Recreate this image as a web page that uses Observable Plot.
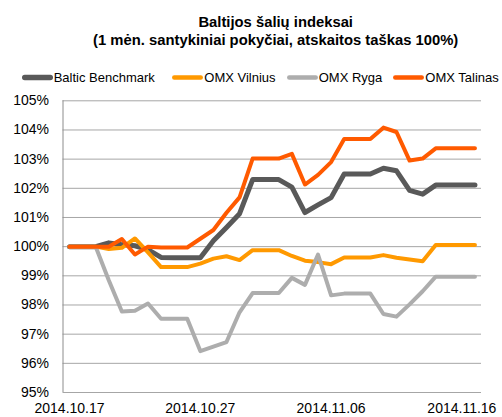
<!DOCTYPE html>
<html>
<head>
<meta charset="utf-8">
<script src="https://cdn.jsdelivr.net/npm/d3@7"></script>
<script src="https://cdn.jsdelivr.net/npm/@observablehq/plot@0.6"></script>
<style>
  html, body { margin: 0; padding: 0; background: #fff; }
  #wrap { position: relative; width: 502px; height: 417px; overflow: hidden; font-family: "Liberation Sans", Arial, sans-serif; color: #000; }
  .title { position: absolute; left: 275.7px; transform: translateX(-50%); white-space: nowrap; font-weight: bold; font-size: 14.8px; line-height: 17.7px; text-align: center; top: 14px; }
  .leg { position: absolute; top: 71px; height: 13px; font-size: 13px; line-height: 13px; white-space: nowrap; display: flex; align-items: center; }
  .leg svg { display: block; margin-right: 1px; }
  #chart { position: absolute; left: 0; top: 88px; }
</style>
</head>
<body>
<div id="wrap">
  <div class="title">Baltijos šalių indeksai<br>(1 mėn. santykiniai pokyčiai, atskaitos taškas 100%)</div>
  <div id="legend"></div>
  <div id="chart"></div>
</div>
<script>
const dates = [
  "2014-10-17","2014-10-18","2014-10-19","2014-10-20","2014-10-21","2014-10-22","2014-10-23","2014-10-24",
  "2014-10-25","2014-10-26","2014-10-27","2014-10-28","2014-10-29","2014-10-30","2014-10-31","2014-11-01",
  "2014-11-02","2014-11-03","2014-11-04","2014-11-05","2014-11-06","2014-11-07","2014-11-08","2014-11-09",
  "2014-11-10","2014-11-11","2014-11-12","2014-11-13","2014-11-14","2014-11-15","2014-11-16","2014-11-17"
];
const balticBenchmark = [
  100, 100, 100, 100.13, 100.07, 100.03, 99.9, 99.63,
  99.62, 99.62, 99.62, 100.2, 100.66, 101.13, 102.3, 102.3,
  102.3, 102.04, 101.17, 101.43, 101.68, 102.49, 102.49, 102.49,
  102.69, 102.6, 101.93, 101.8, 102.11, 102.11, 102.11, 102.11
];
const omxVilnius = [
  100, 100, 100, 99.92, 99.96, 100.28, 99.8, 99.3,
  99.3, 99.3, 99.42, 99.59, 99.67, 99.54, 99.88, 99.88,
  99.88, 99.68, 99.52, 99.47, 99.4, 99.63, 99.63, 99.63,
  99.71, 99.62, 99.56, 99.5, 100.06, 100.06, 100.06, 100.06
];
const omxRyga = [
  100, 100, 100, 98.85, 97.78, 97.8, 98.05, 97.53,
  97.53, 97.53, 96.42, 96.57, 96.73, 97.75, 98.41, 98.41,
  98.41, 98.93, 98.69, 99.73, 98.33, 98.39, 98.39, 98.39,
  97.69, 97.6, 98.02, 98.47, 98.97, 98.97, 98.97, 98.97
];
const omxTalinas = [
  100, 100, 100, 100, 100.26, 99.73, 100.0, 99.97,
  99.97, 99.97, 100.27, 100.57, 101.16, 101.69, 103.02, 103.02,
  103.02, 103.18, 102.13, 102.46, 102.9, 103.69, 103.69, 103.69,
  104.08, 103.93, 102.95, 103.02, 103.37, 103.37, 103.37, 103.37
];
const seriesNames = ["Baltic Benchmark", "OMX Vilnius", "OMX Ryga", "OMX Talinas"];
const seriesColors = ["#595959", "#ff9900", "#adadad", "#ff5a00"];
const seriesWidths = [5, 4, 4, 4];
const yTicks = [95, 96, 97, 98, 99, 100, 101, 102, 103, 104, 105];
const xTickDates = ["2014-10-17", "2014-10-27", "2014-11-06", "2014-11-16"];
const xTickLabels = ["2014.10.17", "2014.10.27", "2014.11.06", "2014.11.16"];

const seriesValues = [balticBenchmark, omxVilnius, omxRyga, omxTalinas];
const parse = s => new Date(s + "T00:00:00Z");
const rows = seriesNames.map((name, k) =>
  dates.map((d, i) => ({ series: name, date: parse(d), value: seriesValues[k][i] }))
);
const tickMap = new Map(xTickDates.map((d, i) => [+parse(d), xTickLabels[i]]));
const xDomain = [new Date(+parse(dates[0]) - 43200000), new Date(+parse(dates[dates.length - 1]) + 43200000)];

// Legend
const legendLefts = [21.7, 172.3, 286.7, 393.3];
const legend = document.getElementById("legend");
seriesNames.forEach((name, k) => {
  const item = document.createElement("div");
  item.className = "leg";
  item.style.left = legendLefts[k] + "px";
  const w = seriesWidths[k] + 0.5;
  item.innerHTML = `<svg width="31" height="13"><line x1="${w/2}" x2="${31 - w/2}" y1="6.5" y2="6.5" stroke="${seriesColors[k]}" stroke-width="${w}" stroke-linecap="round"/></svg><span>${name}</span>`;
  legend.appendChild(item);
});

const chart = Plot.plot({
  width: 502,
  height: 329,
  marginLeft: 62.5,
  marginRight: 21,
  marginTop: 12.3,
  marginBottom: 25,
  x: { type: "utc", domain: xDomain },
  y: { domain: [95, 105] },
  style: { fontFamily: "'Liberation Sans', Arial, sans-serif", fontSize: "14px", color: "#000", background: "transparent", overflow: "visible" },
  marks: [
    Plot.gridY(yTicks, { stroke: "#a6a6a6", strokeOpacity: 1, strokeWidth: 1 }),
    Plot.ruleX([xDomain[0]], { y1: 95, y2: 105, stroke: "#8c8c8c", strokeWidth: 1 }),
    Plot.axisY(yTicks, { tickSize: 0, tickPadding: 14, tickFormat: d => d + "%", label: null, fill: "#000" }),
    Plot.axisX(xTickDates.map(parse), { tickSize: 0, tickPadding: 11, tickFormat: d => tickMap.get(+d), label: null, fill: "#000" }),
    ...rows.map((data, k) => Plot.line(data, {
      x: "date", y: "value",
      stroke: seriesColors[k], strokeWidth: seriesWidths[k],
      strokeLinejoin: "round", strokeLinecap: "round"
    }))
  ]
});
document.getElementById("chart").appendChild(chart);
</script>
</body>
</html>
